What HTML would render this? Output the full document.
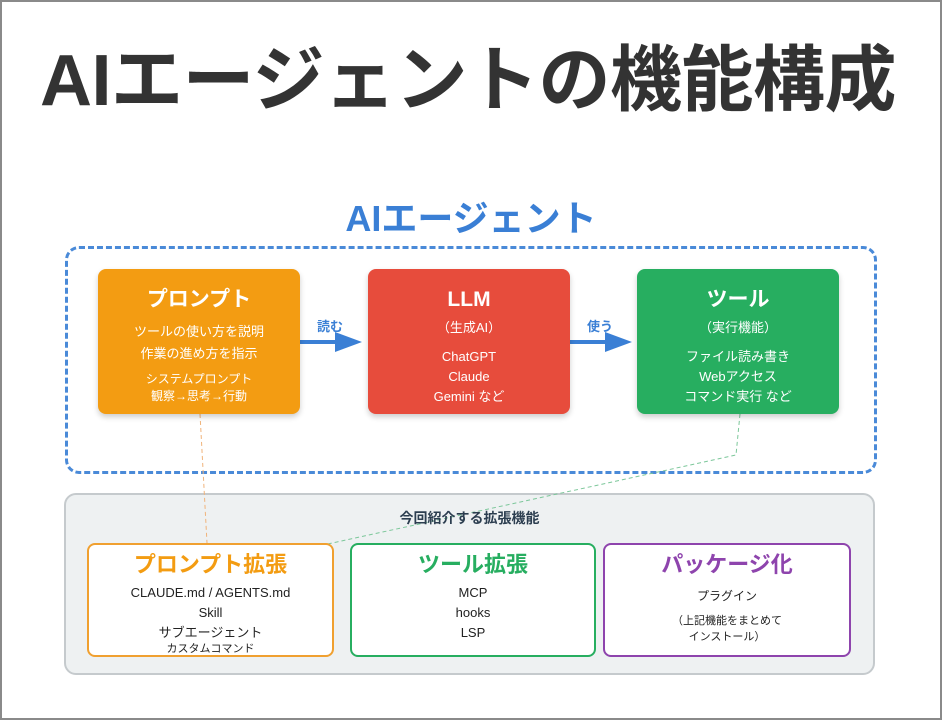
<!DOCTYPE html>
<html><head><meta charset="utf-8"><style>
body{margin:0;width:942px;height:720px;overflow:hidden;background:#fff;font-family:"Liberation Sans","Noto Sans CJK JP",sans-serif}
.frame{position:absolute;left:0;top:0;width:938px;height:716px;border:2px solid #8a8a8a}
.a{position:absolute;text-align:center}
.box{position:absolute;border-radius:8px;color:#fff;text-align:center;box-shadow:0 3px 6px rgba(0,0,0,.2)}
.sb{position:absolute;border:2px solid;border-radius:8px;background:#fff;text-align:center;color:#222}
</style></head><body>
<div class="frame"></div>
<div class="a" style="left:0;top:36px;width:936px;font-size:72px;font-weight:bold;color:#333;line-height:90px;letter-spacing:-0.5px">AIエージェントの機能構成</div>
<div class="a" style="left:0;top:196px;width:942px;font-size:36px;font-weight:bold;color:#3a7fd5;line-height:46px">AIエージェント</div>
<div style="position:absolute;left:65px;top:246px;width:806px;height:222px;border:3px dashed #4a8ad8;border-radius:14px"></div>
<div style="position:absolute;left:64px;top:493px;width:807px;height:178px;border:2px solid #c5cacd;background:#eef1f2;border-radius:12px"></div>
<svg style="position:absolute;left:0;top:0" width="942" height="720">
<line x1="200" y1="414" x2="207" y2="543" stroke="#f0b37a" stroke-width="1" stroke-dasharray="4,3"/>
<polyline points="740,414 736,455 323,545" fill="none" stroke="#7cc79a" stroke-width="1" stroke-dasharray="4,3"/>
<line x1="300" y1="342" x2="340" y2="342" stroke="#3a7fd5" stroke-width="4"/>
<polygon points="335,332 362,342 335,352" fill="#3a7fd5"/>
<line x1="570" y1="342" x2="610" y2="342" stroke="#3a7fd5" stroke-width="4"/>
<polygon points="605,332 632,342 605,352" fill="#3a7fd5"/>
</svg>
<div class="a" style="left:310px;top:316px;width:40px;font-size:13px;font-weight:bold;color:#3a7fd5">読む</div>
<div class="a" style="left:580px;top:316px;width:40px;font-size:13px;font-weight:bold;color:#3a7fd5">使う</div>
<div class="box" style="left:98px;top:269px;width:202px;height:145px;background:#f39c12">
<div style="margin-top:18px;font-size:21px;font-weight:bold;line-height:26px">プロンプト</div>
<div style="margin-top:8px;font-size:13px;line-height:22px">ツールの使い方を説明<br>作業の進め方を指示</div>
<div style="margin-top:6px;font-size:12px;line-height:17px">システムプロンプト<br>観察→思考→行動</div></div>
<div class="box" style="left:368px;top:269px;width:202px;height:145px;background:#e74c3c">
<div style="margin-top:18px;font-size:21px;font-weight:bold;line-height:26px">LLM</div>
<div style="margin-top:6px;font-size:13px;line-height:18px">（生成AI）</div>
<div style="margin-top:10px;font-size:13px;line-height:20px">ChatGPT<br>Claude<br>Gemini など</div></div>
<div class="box" style="left:637px;top:269px;width:202px;height:145px;background:#27ae60">
<div style="margin-top:18px;font-size:21px;font-weight:bold;line-height:26px">ツール</div>
<div style="margin-top:6px;font-size:13px;line-height:18px">（実行機能）</div>
<div style="margin-top:10px;font-size:13px;line-height:20px">ファイル読み書き<br>Webアクセス<br>コマンド実行 など</div></div>
<div class="a" style="left:64px;top:508px;width:811px;font-size:14px;font-weight:bold;color:#2c3e50">今回紹介する拡張機能</div>
<div class="sb" style="left:87px;top:543px;width:243px;height:110px;border-color:#f0a030">
<div style="margin-top:6px;font-size:22px;font-weight:bold;color:#f39c12;line-height:28px">プロンプト拡張</div>
<div style="margin-top:4px;font-size:13px;line-height:20px">CLAUDE.md / AGENTS.md<br>Skill<br>サブエージェント</div>
<div style="font-size:11px;line-height:12px">カスタムコマンド</div></div>
<div class="sb" style="left:350px;top:543px;width:242px;height:110px;border-color:#27ae60">
<div style="margin-top:6px;font-size:22px;font-weight:bold;color:#27ae60;line-height:28px">ツール拡張</div>
<div style="margin-top:4px;font-size:13px;line-height:20px">MCP<br>hooks<br>LSP</div></div>
<div class="sb" style="left:603px;top:543px;width:244px;height:110px;border-color:#8e44ad">
<div style="margin-top:6px;font-size:22px;font-weight:bold;color:#8e44ad;line-height:28px">パッケージ化</div>
<div style="margin-top:8px;font-size:12px;line-height:18px">プラグイン</div>
<div style="margin-top:8px;font-size:11px;line-height:16px">（上記機能をまとめて<br>インストール）</div></div>
</body></html>
